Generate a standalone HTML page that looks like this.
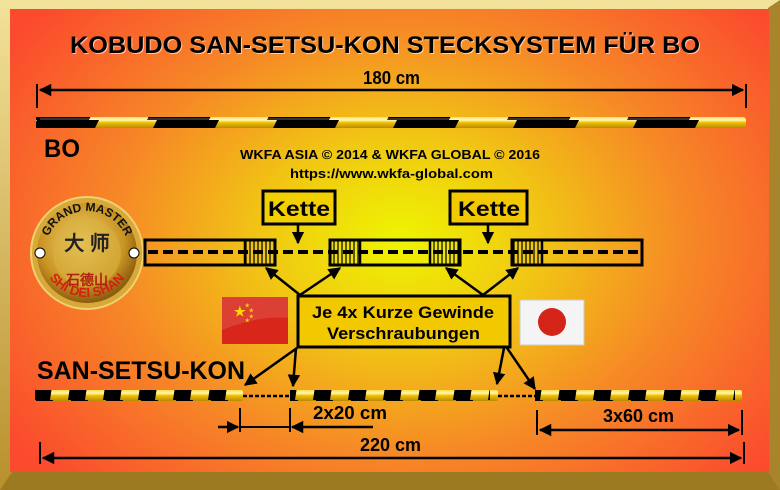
<!DOCTYPE html>
<html><head><meta charset="utf-8"><style>
html,body{margin:0;padding:0;width:780px;height:490px;overflow:hidden;background:#c9a437}
svg{display:block}
text{font-family:"Liberation Sans",Arial,sans-serif;font-weight:bold}
</style></head><body>
<svg width="780" height="490" viewBox="0 0 780 490" xmlns="http://www.w3.org/2000/svg">
<defs>
<radialGradient id="bg" cx="400" cy="240" r="470" gradientUnits="userSpaceOnUse" gradientTransform="translate(400 240) scale(1 0.75) translate(-400 -240)">
<stop offset="0" stop-color="#eef500"/>
<stop offset="0.3" stop-color="#f1c514"/>
<stop offset="0.6" stop-color="#f68a26"/>
<stop offset="1" stop-color="#fb4a2e"/>
</radialGradient>
<linearGradient id="gold" x1="0" y1="0" x2="0" y2="1">
<stop offset="0" stop-color="#f3e29a"/><stop offset="1" stop-color="#b8902c"/>
</linearGradient>
<radialGradient id="coin" cx="0.45" cy="0.4" r="0.6">
<stop offset="0" stop-color="#f4d470"/><stop offset="0.7" stop-color="#c99422"/><stop offset="1" stop-color="#8a5c10"/>
</radialGradient>
<linearGradient id="stick" x1="0" y1="0" x2="0" y2="1">
<stop offset="0" stop-color="#f7e24a"/><stop offset="0.3" stop-color="#fff6b0"/><stop offset="0.5" stop-color="#f0c000"/><stop offset="1" stop-color="#b88a00"/>
</linearGradient>
<pattern id="boStripe" x="37" y="0" width="120" height="20" patternUnits="userSpaceOnUse">
<polygon points="0,0 62,0 52,20 -10,20" fill="#000"/><polygon points="120,0 182,0 172,20 110,20" fill="#000"/>
</pattern>
<pattern id="sStripe" x="36" y="0" width="35" height="20" patternUnits="userSpaceOnUse">
<polygon points="0,0 17,0 14,20 -3,20" fill="#000"/><polygon points="35,0 52,0 49,20 32,20" fill="#000"/>
</pattern>
<pattern id="hatch" x="0" y="0" width="4" height="10" patternUnits="userSpaceOnUse">
<line x1="2" y1="0" x2="2" y2="10" stroke="#000" stroke-width="1.2"/>
</pattern>
<marker id="ar" viewBox="0 0 10 10" refX="9" refY="5" markerWidth="5" markerHeight="5" orient="auto-start-reverse">
<path d="M0,0 L10,5 L0,10 z" fill="#000"/>
</marker>
</defs>
<rect x="0" y="0" width="780" height="490" fill="url(#gold)"/>
<polygon points="0,490 12,472 768,472 780,490" fill="#9c7a22"/>
<polygon points="768,8 780,0 780,490 768,472" fill="#a8842a"/>
<rect x="10" y="9" width="759" height="463" fill="url(#bg)"/>

<text x="71" y="54" font-size="24" textLength="630" lengthAdjust="spacingAndGlyphs" fill="#fff" opacity="0.6">KOBUDO SAN-SETSU-KON STECKSYSTEM FÜR BO</text>
<text x="70" y="53" font-size="24" textLength="630" lengthAdjust="spacingAndGlyphs" fill="#000">KOBUDO SAN-SETSU-KON STECKSYSTEM FÜR BO</text>

<text x="363" y="84" font-size="18" textLength="57" lengthAdjust="spacingAndGlyphs" fill="#000">180 cm</text>
<line x1="37" y1="84" x2="37" y2="108" stroke="#000" stroke-width="2"/>
<line x1="746" y1="84" x2="746" y2="108" stroke="#000" stroke-width="2"/>
<line x1="40" y1="90" x2="743" y2="90" stroke="#000" stroke-width="2.5" marker-start="url(#ar)" marker-end="url(#ar)"/>

<rect x="36" y="117" width="710" height="11" rx="3" fill="url(#stick)"/>
<rect x="36" y="117" width="710" height="11" fill="url(#boStripe)"/>
<line x1="40" y1="119" x2="740" y2="119" stroke="#fff" stroke-width="1" opacity="0.4"/>
<text x="44" y="157" font-size="25" textLength="36" lengthAdjust="spacingAndGlyphs" fill="#000">BO</text>

<text x="240" y="159" font-size="13" textLength="300" lengthAdjust="spacingAndGlyphs" fill="#000">WKFA ASIA © 2014 &amp; WKFA GLOBAL © 2016</text>
<text x="290" y="178" font-size="13" textLength="203" lengthAdjust="spacingAndGlyphs" fill="#000">https://www.wkfa-global.com</text>

<circle cx="87" cy="253" r="56" fill="#d8a838" stroke="#f0d070" stroke-width="2"/>
<circle cx="87" cy="253" r="50" fill="url(#coin)"/>
<circle cx="87" cy="253" r="34" fill="#d8b040" opacity="0.6"/>
<path id="arcT" d="M45,253 A42,42 0 0 1 129,253" fill="none"/>
<path id="arcB" d="M40,250 A47,47 0 0 0 134,250" fill="none"/>
<text font-size="12" fill="#111"><textPath href="#arcT" startOffset="50%" text-anchor="middle">GRAND MASTER</textPath></text>
<text font-size="13" fill="#d42010"><textPath href="#arcB" startOffset="50%" text-anchor="middle">SHI DEI SHAN</textPath></text>
<text x="87" y="250" font-size="20" text-anchor="middle" fill="#222" font-family="Noto Sans CJK SC,sans-serif">大 师</text>
<text x="87" y="285" font-size="14" text-anchor="middle" fill="#b02010" font-family="Noto Sans CJK SC,sans-serif">石德山</text>
<circle cx="40" cy="253" r="5" fill="#fff" stroke="#000"/><circle cx="134" cy="253" r="5" fill="#fff" stroke="#000"/>

<g stroke="#000" stroke-width="3" fill="none">
<rect x="145" y="240" width="130" height="25"/>
<rect x="330" y="240" width="130" height="25"/>
<rect x="512" y="240" width="130" height="25"/>
</g>
<rect x="245" y="241" width="30" height="23" fill="url(#hatch)"/>
<rect x="330" y="241" width="30" height="23" fill="url(#hatch)"/>
<rect x="430" y="241" width="30" height="23" fill="url(#hatch)"/>
<rect x="512" y="241" width="30" height="23" fill="url(#hatch)"/>
<g stroke="#000" stroke-width="2.5" fill="none">
<line x1="245" y1="240" x2="245" y2="265"/><line x1="360" y1="240" x2="360" y2="265"/>
<line x1="430" y1="240" x2="430" y2="265"/><line x1="542" y1="240" x2="542" y2="265"/>
</g>
<line x1="148" y1="252" x2="640" y2="252" stroke="#000" stroke-width="4" stroke-dasharray="10,5"/>

<rect x="263" y="191" width="72" height="33" fill="#f2d000" stroke="#000" stroke-width="3"/>
<text x="268" y="216" font-size="21" textLength="62" lengthAdjust="spacingAndGlyphs" fill="#000">Kette</text>
<rect x="450" y="191" width="77" height="33" fill="#f2c800" stroke="#000" stroke-width="3"/>
<text x="458" y="216" font-size="21" textLength="62" lengthAdjust="spacingAndGlyphs" fill="#000">Kette</text>
<line x1="298" y1="224" x2="298" y2="243" stroke="#000" stroke-width="2.5" marker-end="url(#ar)"/>
<line x1="488" y1="224" x2="488" y2="243" stroke="#000" stroke-width="2.5" marker-end="url(#ar)"/>

<rect x="298" y="296" width="212" height="51" fill="#f2c800" stroke="#000" stroke-width="3"/>
<text x="312" y="318" font-size="17" textLength="182" lengthAdjust="spacingAndGlyphs" fill="#000">Je 4x Kurze Gewinde</text>
<text x="327" y="339" font-size="17" textLength="153" lengthAdjust="spacingAndGlyphs" fill="#000">Verschraubungen</text>
<g stroke="#000" stroke-width="2.5" marker-end="url(#ar)">
<line x1="300" y1="295" x2="266" y2="268"/>
<line x1="300" y1="295" x2="340" y2="268"/>
<line x1="483" y1="295" x2="446" y2="268"/>
<line x1="483" y1="295" x2="518" y2="268"/>
<line x1="297" y1="348" x2="245" y2="385"/>
<line x1="296" y1="348" x2="293" y2="386"/>
<line x1="504" y1="348" x2="497" y2="384"/>
<line x1="507" y1="348" x2="535" y2="389"/>
</g>

<rect x="222" y="297" width="66" height="47" fill="#d8261a"/>
<path d="M222,330 Q260,315 288,318 L288,297 L222,297 z" fill="#fff" opacity="0.12"/>
<text x="234" y="316" font-size="13" fill="#ffdd00">★</text>
<text x="245" y="307" font-size="5" fill="#ffdd00">★</text><text x="249" y="312" font-size="5" fill="#ffdd00">★</text>
<text x="249" y="318" font-size="5" fill="#ffdd00">★</text><text x="245" y="322" font-size="5" fill="#ffdd00">★</text>
<rect x="520" y="300" width="64" height="45" fill="#f4f4f4" stroke="#ccc"/>
<circle cx="552" cy="322" r="14" fill="#d42418"/>

<text x="37" y="379" font-size="25" textLength="208" lengthAdjust="spacingAndGlyphs" fill="#000">SAN-SETSU-KON</text>
<line x1="243" y1="396" x2="290" y2="396" stroke="#000" stroke-width="2.5" stroke-dasharray="4,2"/>
<line x1="498" y1="396" x2="535" y2="396" stroke="#000" stroke-width="2.5" stroke-dasharray="4,2"/>
<g>
<rect x="35" y="390" width="208" height="11" rx="2" fill="url(#stick)"/>
<rect x="35" y="390" width="208" height="11" fill="url(#sStripe)"/>
<rect x="290" y="390" width="208" height="11" rx="2" fill="url(#stick)"/>
<rect x="290" y="390" width="200" height="11" fill="url(#sStripe)"/>
<rect x="535" y="390" width="207" height="11" rx="2" fill="url(#stick)"/>
<rect x="535" y="390" width="200" height="11" fill="url(#sStripe)"/>
</g>

<g stroke="#000" stroke-width="2">
<line x1="240" y1="408" x2="240" y2="432"/><line x1="290" y1="408" x2="290" y2="432"/>
<line x1="537" y1="410" x2="537" y2="435"/><line x1="742" y1="410" x2="742" y2="435"/>
<line x1="40" y1="442" x2="40" y2="464"/><line x1="744" y1="442" x2="744" y2="464"/>
<line x1="240" y1="427" x2="290" y2="427"/>
</g>
<line x1="218" y1="427" x2="238" y2="427" stroke="#000" stroke-width="2.5" marker-end="url(#ar)"/>
<line x1="373" y1="427" x2="292" y2="427" stroke="#000" stroke-width="2.5" marker-end="url(#ar)"/>
<text x="313" y="419" font-size="18" textLength="74" lengthAdjust="spacingAndGlyphs" fill="#000">2x20 cm</text>
<line x1="540" y1="430" x2="739" y2="430" stroke="#000" stroke-width="2.5" marker-start="url(#ar)" marker-end="url(#ar)"/>
<text x="603" y="422" font-size="18" textLength="71" lengthAdjust="spacingAndGlyphs" fill="#000">3x60 cm</text>
<text x="360" y="451" font-size="18" textLength="61" lengthAdjust="spacingAndGlyphs" fill="#000">220 cm</text>
<line x1="43" y1="458" x2="741" y2="458" stroke="#000" stroke-width="2.5" marker-start="url(#ar)" marker-end="url(#ar)"/>
</svg>
</body></html>
